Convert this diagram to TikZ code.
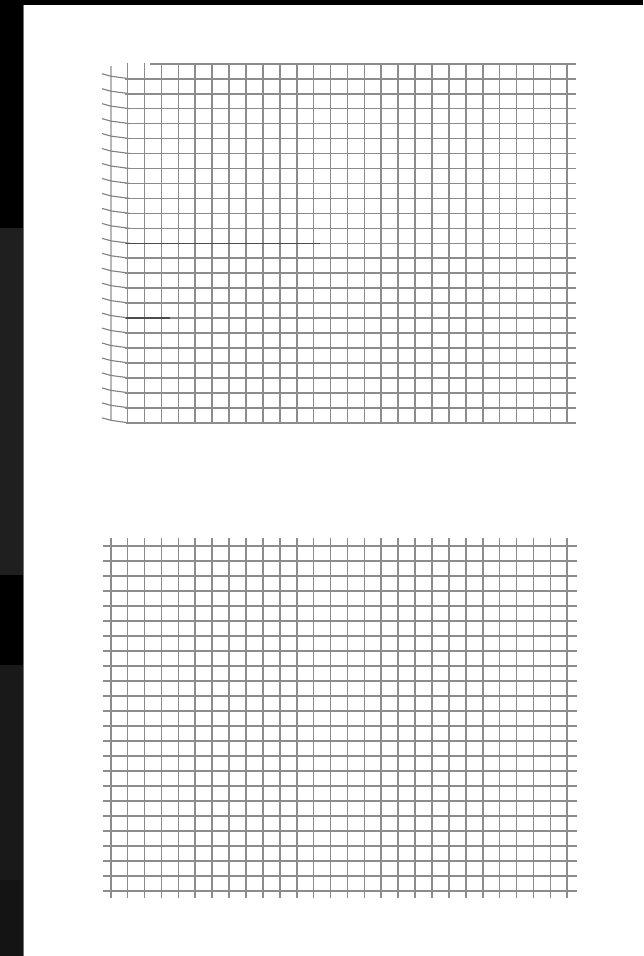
\documentclass[tikz,border=0pt]{standalone}
\begin{document}
\begin{tikzpicture}[x=1pt,y=-1pt,
  gridline/.style={draw=black!45,line width=1.6pt},
  faintline/.style={draw=black!28,line width=1.6pt},
  darkline/.style={draw=black!70,line width=1.3pt},
  tickline/.style={draw=black!50,line width=1.1pt}]
\useasboundingbox (0,0) rectangle (643,956);
% backdrop
\fill[white] (0,0) rectangle (643,956);
\fill[black] (0,0) rectangle (643,5);
\fill[black] (0,0) rectangle (23,956);
\fill[black!88] (0,228) rectangle (23,575);
\fill[black!90] (0,665) rectangle (23,880);
\fill[black!92] (0,880) rectangle (23,956);
\draw[black!55,line width=0.8pt] (23.3,5) -- (23.3,956);
% ---------- top grid ----------
\draw[gridline] (150,63.8) -- (576,63.8);
\draw[faintline] (110.7,66) -- (110.7,420);
\foreach \i in {1,...,27}{
  \draw[gridline] ({110.7+\i*16.91},63) -- ({110.7+\i*16.91},424);
}
\foreach \j in {1,...,23}{
  \pgfmathsetmacro{\yy}{63.8+\j*14.96}
  \draw[tickline] (102,\yy-5) -- (111,\yy-2.5) -- (130,\yy);
  \draw[gridline] (125,\yy) -- (576,\yy);
}
\draw[tickline] (102,417.8) -- (111,420.3) -- (128,422.8);
\draw[gridline] (126,422.8) -- (576,422.8);
\draw[darkline] (126,243.3) -- (320,243.3);
\draw[darkline] (126,318) -- (170,318);
% ---------- bottom grid ----------
\foreach \i in {0,...,27}{
  \draw[gridline] ({110.7+\i*16.91},538) -- ({110.7+\i*16.91},898);
}
\foreach \j in {0,...,23}{
  \draw[gridline] (103,{546+\j*15}) -- (577,{546+\j*15});
}
\end{tikzpicture}
\end{document}
